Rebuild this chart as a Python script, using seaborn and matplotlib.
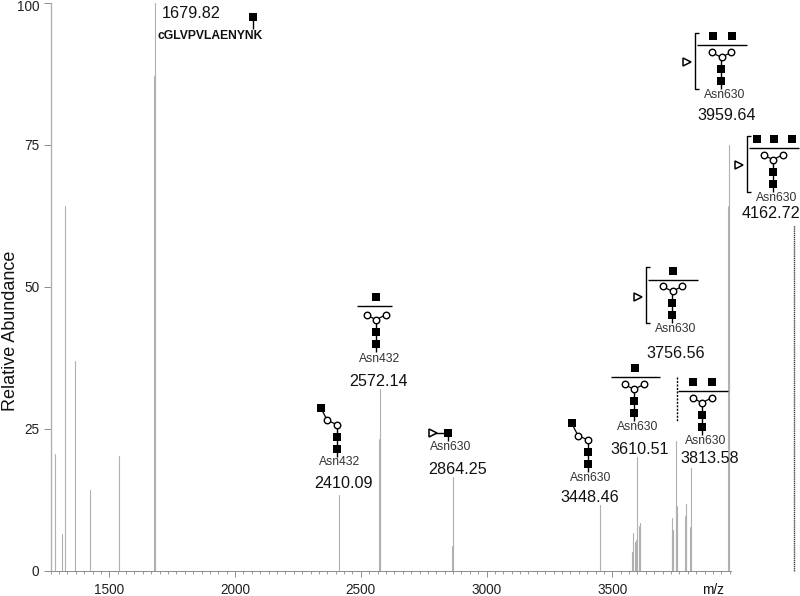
import numpy as np
import pandas as pd
import matplotlib
matplotlib.use('Agg')
import matplotlib.pyplot as plt
from matplotlib.ticker import MultipleLocator, FixedLocator
from matplotlib.transforms import ScaledTranslation
import seaborn as sns

# thin peaks: full height of each stick
thin_mz = [1284, 1310, 1322, 1362, 1425, 1537, 1682, 2414, 2577, 2866, 3450,
           3577, 3583, 3594, 3599, 3609, 3736, 3740, 3752, 3756, 3795, 3811, 3964]
thin_int = [20.6, 6.5, 64.2, 37.0, 14.3, 20.3, 100, 13.4, 32.0, 16.6, 11.6,
            3.4, 6.7, 5.5, 20.0, 8.4, 9.3, 7.2, 22.8, 11.3, 11.8, 18.2, 75.0]
# broader, darker centroid peaks sitting on top of the sticks
thick_mz = [1682, 2577, 2868, 3595, 3609, 3740, 3756, 3795, 3811, 3964]
thick_int = [87.0, 23.0, 4.3, 5.0, 7.8, 6.0, 11.2, 9.5, 7.5, 64.0]
dotted_mz = [4224]
dotted_int = [61]
y_ticks = [0, 25, 50, 75, 100]
x_ticks = [1500, 2000, 2500, 3000, 3500]

GREY = '#b0b0b0'
TICK = '#8c8c8c'
W, H = 800, 596

sns.set_theme(style='ticks')
plt.rcParams['font.family'] = ['Liberation Sans', 'DejaVu Sans']

fig = plt.figure(figsize=(W / 100, H / 100), dpi=100, facecolor='white')
ax = fig.add_axes([50.5 / W, 1 - 571 / H, (731 - 50.5) / W, (571 - 3) / H])


def sticks(mz, intensity):
    return pd.DataFrame({
        'mz': np.repeat(mz, 2),
        'abundance': np.ravel([[0, i] for i in intensity]),
        'peak': np.repeat(np.arange(len(mz)), 2),
    })


sns.lineplot(data=sticks(thin_mz, thin_int), x='mz', y='abundance', units='peak',
             estimator=None, color=GREY, lw=0.8, ax=ax, legend=False)
sns.lineplot(data=sticks(thick_mz, thick_int), x='mz', y='abundance', units='peak',
             estimator=None, color=GREY, lw=1.5, ax=ax, legend=False)
ax.plot(dotted_mz * 2, [0, dotted_int[0]], color='#444444', lw=1.0,
        ls=(0, (1, 0.5)), clip_on=False)

ax.set_xlim(1266, 3972)
ax.set_ylim(0, 100)
ax.set_xlabel('')
ax.set_ylabel('Relative Abundance', fontsize=13, color='#111111')
ax.yaxis.set_label_coords(-0.046, 0.4225)
ax.xaxis.set_major_locator(FixedLocator(x_ticks))
ax.xaxis.set_minor_locator(MultipleLocator(100 / 3))
ax.yaxis.set_major_locator(FixedLocator(y_ticks))
ax.tick_params(axis='x', which='major', length=4.5, width=0.7, color=TICK,
               labelsize=9.8, labelcolor='#222222', pad=4)
ax.tick_params(axis='x', which='minor', length=2, width=0.6, color=TICK)
ax.tick_params(axis='y', which='major', length=5, width=0.7, color=TICK,
               labelsize=9.8, labelcolor='#222222', pad=3)
sns.despine(ax=ax)
ax.spines['left'].set_color(GREY)
ax.spines['left'].set_linewidth(1)
ax.spines['bottom'].set_color(TICK)
ax.spines['bottom'].set_linewidth(0.7)
# keep the 100 label on the canvas
top_label = ax.get_yticklabels()[-1]
top_label.set_transform(top_label.get_transform()
                        + ScaledTranslation(0, -2.5 / 100, fig.dpi_scale_trans))

# overlay in pixel coordinates for the glycan cartoons and peak labels
ov = fig.add_axes([0, 0, 1, 1], facecolor='none')
ov.set_xlim(0, W)
ov.set_ylim(H, 0)
ov.axis('off')


def square(x, y):
    ov.plot([x], [y], marker='s', ms=5.4, color='black', mew=0, zorder=4)


def circle(x, y):
    ov.plot([x], [y], marker='o', ms=4.7, mfc='white', mec='black', mew=1.0, zorder=4)


def fucose(x, y):
    ov.plot([x], [y], marker='>', ms=5.4, mfc='white', mec='black', mew=1.1, zorder=4)


def line(xs, ys, lw=1.0, **kw):
    ov.plot(xs, ys, color='black', lw=lw, solid_capstyle='butt', zorder=3, **kw)


def core(x, y):
    # chitobiose stem plus the mannose fork
    line([x, x], [y + 8, y - 22])
    line([x - 10, x, x + 10], [y - 29, y - 24, y - 29], lw=0.9)
    square(x, y)
    square(x, y - 12)
    circle(x + 0.3, y - 24)
    circle(x - 9.5, y - 29)
    circle(x + 10, y - 29)


def arm(x, y):
    # single antenna glycan, hanging off to the upper left
    line([x, x], [y + 8, y - 24])
    line([x - 16, x - 9.5, x + 0.3], [y - 41, y - 28.5, y - 24], lw=0.9)
    square(x, y)
    square(x, y - 12)
    circle(x + 0.3, y - 24)
    circle(x - 9.5, y - 28.5)
    square(x - 16, y - 41)


def bracket(x, y0, y1):
    line([x + 4, x, x, x + 4], [y0, y0, y1, y1])


def label(x, y, text, size=11.6, **kw):
    kw.setdefault('color', '#111111')
    ov.text(x, y, text, fontsize=size, ha='center', va='center', **kw)


def site(x, y, text):
    label(x, y, text, size=8.7, color='#333333')


# 1679.82
label(191, 13, '1679.82')
ov.text(158, 36, 'cGLVPVLAENYNK', fontsize=8.7, fontweight='bold', ha='left',
        va='center', color='#111111')
line([252.5, 252.5], [17, 29])
square(252.5, 17)

# 2410.09
arm(336.7, 448.7)
site(340, 462, 'Asn432')
label(343.5, 483, '2410.09')

# 2572.14
core(376, 343.7)
line([357, 392], [306, 306])
square(376, 297)
site(380, 359, 'Asn432')
label(379, 381, '2572.14')

# 2864.25
line([434, 447.7], [433, 433])
line([447.7, 447.7], [433, 441])
square(447.7, 433)
fucose(432.7, 433)
site(451, 447, 'Asn630')
label(457.5, 470, '2864.25')

# 3448.46
arm(587.5, 464)
site(591, 478, 'Asn630')
label(590, 497, '3448.46')

# 3610.51
core(634, 413.3)
line([610.7, 660.3], [377, 377])
square(635, 368.3)
site(638, 427.5, 'Asn630')
label(639.5, 449, '3610.51')

# 3813.58
core(702, 426.7)
line([678, 727.7], [390.7, 390.7])
line([677.3, 677.3], [376.7, 420.7], ls=(0, (1.5, 1)))
square(693.3, 381.7)
square(712.3, 381.7)
site(705.5, 440.5, 'Asn630')
label(709.5, 458.5, '3813.58')

# 3756.56
core(672.3, 315.3)
line([648.3, 698], [279.7, 279.7])
square(673.3, 270.7)
bracket(646, 267.3, 323.3)
fucose(637.7, 296.7)
site(676, 329.5, 'Asn630')
label(676, 353, '3756.56')

# 3959.64
core(721.3, 81.3)
line([697.3, 747], [45, 45])
square(713, 35.7)
square(731.7, 35.7)
bracket(695.3, 32.7, 89)
fucose(687.3, 62.3)
site(725, 95, 'Asn630')
label(727, 115, '3959.64')

# 4162.72
core(773, 183.7)
line([749, 798.7], [148, 148])
square(756.7, 138.7)
square(773.7, 138.7)
square(792, 138.7)
bracket(746.7, 135.7, 192)
fucose(738.7, 165)
site(777, 198, 'Asn630')
label(771, 214, '4162.72')

label(713, 590, 'm/z', size=9.8)

fig.savefig('out.png', dpi=100)
